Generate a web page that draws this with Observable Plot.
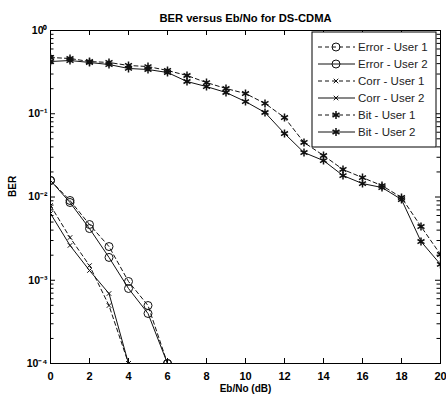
<!DOCTYPE html>
<html><head><meta charset="utf-8">
<script src="https://cdn.jsdelivr.net/npm/d3@7"></script>
<script src="https://cdn.jsdelivr.net/npm/@observablehq/plot@0.6"></script>
<style>html,body{margin:0;padding:0;background:#fff}svg{display:block}</style>
</head><body><div id="chart"></div>
<script>
// ---- data ----
const snrBit = [0,1,2,3,4,5,6,7,8,9,10,11,12,13,14,15,16,17,18,19,20];
const bitUser1 = [0.474,0.461,0.424,0.413,0.380,0.369,0.331,0.288,0.237,0.201,0.175,0.133,0.0901,0.0452,0.0315,0.0214,0.0171,0.0137,0.00986,0.00442,0.00204];
const bitUser2 = [0.424,0.436,0.413,0.390,0.350,0.340,0.313,0.244,0.212,0.180,0.140,0.1035,0.0579,0.0342,0.0274,0.0181,0.0145,0.0130,0.00933,0.00292,0.00155];
const snrErr = [0,1,2,3,4,5,6];
const errUser1 = [0.0158,0.00908,0.00467,0.00254,0.000966,0.000497,0.0001];
const errUser2 = [0.0158,0.00859,0.00418,0.00188,0.000796,0.000399,0.0001];
const snrCorr = [0,1,2,3,4];
const corrUser1 = [0.00790,0.00326,0.00150,0.000497,0.0001];
const corrUser2 = [0.00633,0.00262,0.00131,0.000693,0.0001];
const seriesNames = ["Error - User 1","Error - User 2","Corr - User 1","Corr - User 2","Bit - User 1","Bit - User 2"];
const xTicks = [0,2,4,6,8,10,12,14,16,18,20];
const yTicks = [1e-4,1e-3,1e-2,1e-1,1];
const titleText = "BER versus Eb/No for DS-CDMA";
const xLabel = "Eb/No (dB)";
const yLabel = "BER";

const series = [
  {name: seriesNames[0], x: snrErr, y: errUser1, dashed: true, symbol: "circle", r: 4},
  {name: seriesNames[1], x: snrErr, y: errUser2, dashed: false, symbol: "circle", r: 4},
  {name: seriesNames[2], x: snrCorr, y: corrUser1, dashed: true, symbol: "times", r: 2.2},
  {name: seriesNames[3], x: snrCorr, y: corrUser2, dashed: false, symbol: "times", r: 2.2},
  {name: seriesNames[4], x: snrBit, y: bitUser1, dashed: true, symbol: "asterisk", r: 3.8},
  {name: seriesNames[5], x: snrBit, y: bitUser2, dashed: false, symbol: "asterisk", r: 3.8}
];
const minorTicks = yTicks.slice(0, -1).flatMap(d => [2,3,4,5,6,7,8,9].map(k => d * k));

const W = 446, H = 399, mL = 50, mR = 6, mT = 30, mB = 36;
const fw = W - mL - mR, fh = H - mT - mB;
const sup = {"-":"\u207B","0":"\u2070","1":"\u00B9","2":"\u00B2","3":"\u00B3","4":"\u2074"};
const fmtY = d => "10" + String(Math.round(Math.log10(d))).split("").map(c => sup[c]).join("");
const ink = "#111";

const marks = [
  Plot.frame({stroke: "#000", strokeWidth: 1}),
  Plot.axisX(xTicks, {tickSize: 0, tickPadding: 9, fontWeight: "bold", fontSize: 11, label: null}),
  Plot.axisY(yTicks, {tickSize: 0, tickPadding: 3, tickFormat: fmtY, fontWeight: "bold", fontSize: 10.5, label: null}),
  Plot.tickX(xTicks, {x: d => d, insetTop: fh - 5, stroke: "#000"}),
  Plot.tickX(xTicks, {x: d => d, insetBottom: fh - 5, stroke: "#000"}),
  Plot.tickY(yTicks, {y: d => d, insetRight: fw - 5, stroke: "#000"}),
  Plot.tickY(yTicks, {y: d => d, insetLeft: fw - 5, stroke: "#000"}),
  Plot.tickY(minorTicks, {y: d => d, insetRight: fw - 3.5, stroke: "#000"}),
  Plot.tickY(minorTicks, {y: d => d, insetLeft: fw - 3.5, stroke: "#000"})
];
for (const s of series) {
  const rows = s.x.map((x, i) => ({x, y: s.y[i]}));
  marks.push(Plot.line(rows, {x: "x", y: "y", stroke: ink, strokeWidth: 1, strokeDasharray: s.dashed ? "4,3" : null, clip: true}));
  marks.push(Plot.dot(rows, {x: "x", y: "y", symbol: s.symbol, r: s.r, stroke: ink, strokeWidth: s.symbol === "asterisk" ? 1.5 : 1, fill: "none", clip: true}));
}
marks.push(Plot.text([titleText], {text: d => d, frameAnchor: "top", dy: -16, fontWeight: "bold", fontSize: 11.2}));
marks.push(Plot.text([xLabel], {text: d => d, frameAnchor: "bottom", dy: 28, fontWeight: "bold", fontSize: 10}));
marks.push(Plot.text([yLabel], {text: d => d, frameAnchor: "left", dx: -38, rotate: -90, fontWeight: "bold", fontSize: 10}));

const chart = Plot.plot({
  width: W, height: H, marginLeft: mL, marginRight: mR, marginTop: mT, marginBottom: mB,
  x: {domain: [0, 20]},
  y: {type: "log", domain: [1e-4, 1]},
  style: {fontFamily: "'Liberation Sans', Arial, sans-serif", background: "#fff", color: "#000"},
  marks
});
document.getElementById("chart").appendChild(chart);

// ---- legend ----
const svg = d3.select(chart);
const lx0 = 312, ly0 = 32, lw = 124, rowH = 17;
const lg = svg.append("g").attr("text-anchor", "start");
lg.append("rect").attr("x", lx0).attr("y", ly0).attr("width", lw).attr("height", rowH * series.length + 13)
  .attr("fill", "#fff").attr("stroke", "#000");
const symMap = {circle: d3.symbolCircle, times: d3.symbolTimes, asterisk: d3.symbolAsterisk};
series.forEach((s, i) => {
  const y = ly0 + 15 + i * rowH;
  lg.append("line").attr("x1", lx0 + 6).attr("x2", lx0 + 43).attr("y1", y).attr("y2", y)
    .attr("stroke", ink).attr("stroke-dasharray", s.dashed ? "4,3" : null);
  lg.append("path").attr("d", d3.symbol(symMap[s.symbol], Math.PI * s.r * s.r)())
    .attr("transform", `translate(${lx0 + 24},${y})`).attr("fill", "none").attr("stroke", ink)
    .attr("stroke-width", s.symbol === "asterisk" ? 1.5 : 1);
  lg.append("text").attr("x", lx0 + 46).attr("y", y).attr("dy", "0.35em").attr("text-anchor", "start")
    .attr("font-size", 11.5).attr("font-family", "'Liberation Sans', Arial, sans-serif").attr("fill", "#222").text(s.name);
});
</script>
</body></html>
